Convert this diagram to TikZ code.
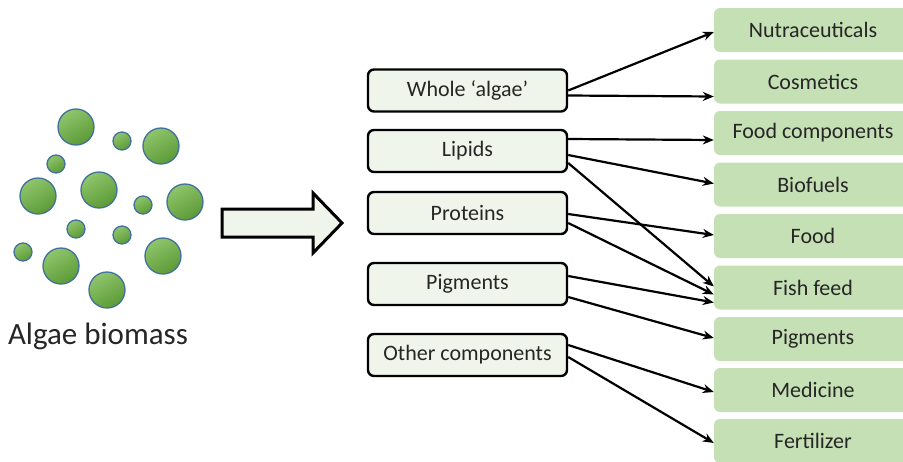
\documentclass[tikz,border=0pt]{standalone}
\usepackage{fontspec}
\setmainfont{Carlito}
\usetikzlibrary{arrows.meta,shapes.geometric}
\definecolor{srcfill}{HTML}{EFF5EA}
\definecolor{dstfill}{HTML}{C5E0B4}
\definecolor{cellA}{HTML}{8FC56C}
\definecolor{cellB}{HTML}{5C9A36}
\definecolor{cellline}{HTML}{41719C}
\definecolor{txt}{HTML}{262626}
\tikzset{
  srcbox/.style={draw=black, line width=2.4pt, rounded corners=6pt, fill=srcfill,
    minimum width=199pt, minimum height=42pt, font=\fontsize{22}{26}\selectfont, text=txt},
  dstbox/.style={fill=dstfill, rounded corners=6pt, minimum width=198pt, minimum height=44pt,
    font=\fontsize{22}{26}\selectfont, text=txt},
  link/.style={line width=2.2pt, -{Stealth[length=11pt,width=9pt]}},
  cell/.style={draw=cellline, line width=1.3pt, top color=cellA, bottom color=cellB, shading angle=30}
}
\begin{document}
\begin{tikzpicture}[x=1pt,y=-1pt]
\useasboundingbox (0,0) rectangle (903,461);
\clip (0,0) rectangle (903,461);
% cells
\foreach \cx/\cy/\r [count=\i] in {76/127/18,122/141/9,161/146/18,56/164/9,38/196/18,99/190/18,143/205/9,185/202/18,76/229/9,122/235/9,23/252/9,61/266/18,163/256/18,107/290/18}
  \path[cell] (\cx,\cy) circle[radius=\r];
\node[font=\fontsize{31}{36}\selectfont, text=txt] (lbl) at (98,336) {Algae biomass};
% big arrow
\draw[line width=3pt, fill=srcfill, line join=miter]
  (222,209) -- (313,209) -- (313,193) -- (342,223) -- (313,253) -- (313,237) -- (222,237) -- cycle;
% source boxes
\node[srcbox] (wa) at (467.5,90.5) {Whole ‘algae’};
\node[srcbox] (li) at (467.5,151) {Lipids};
\node[srcbox] (pr) at (467.5,213) {Proteins};
\node[srcbox] (pg) at (467.5,284) {Pigments};
\node[srcbox] (ot) at (467.5,355) {Other components};
% destination boxes
\node[dstbox] (nu) at (813,30) {Nutraceuticals};
\node[dstbox] (co) at (813,81.5) {Cosmetics};
\node[dstbox] (fc) at (813,133) {Food components};
\node[dstbox] (bi) at (813,184.5) {Biofuels};
\node[dstbox] (fo) at (813,236) {Food};
\node[dstbox] (ff) at (813,287.5) {Fish feed};
\node[dstbox] (pi) at (813,339) {Pigments};
\node[dstbox] (me) at (813,390) {Medicine};
\node[dstbox] (fe) at (813,441) {Fertilizer};
% links
\draw[link] ([yshift=0pt]wa.east) -- ([yshift=-2pt]nu.west);
\draw[link] ([yshift=-5pt]wa.east) -- ([yshift=-15pt]co.west);
\draw[link] ([yshift=12pt]li.east) -- ([yshift=-7pt]fc.west);
\draw[link] ([yshift=-4pt]li.east) -- ([yshift=1pt]bi.west);
\draw[link] ([yshift=-12pt]li.east) -- ([yshift=1pt]ff.west);
\draw[link] ([yshift=-1pt]pr.east) -- ([yshift=1pt]fo.west);
\draw[link] ([yshift=-10pt]pr.east) -- ([yshift=-7pt]ff.west);
\draw[link] ([yshift=8pt]pg.east) -- ([yshift=-15pt]ff.west);
\draw[link] ([yshift=-13pt]pg.east) -- ([yshift=1pt]pi.west);
\draw[link] ([yshift=10pt]ot.east) -- ([yshift=-2pt]me.west);
\draw[link] ([yshift=-2pt]ot.east) -- ([yshift=-2pt]fe.west);
\end{tikzpicture}
\end{document}
